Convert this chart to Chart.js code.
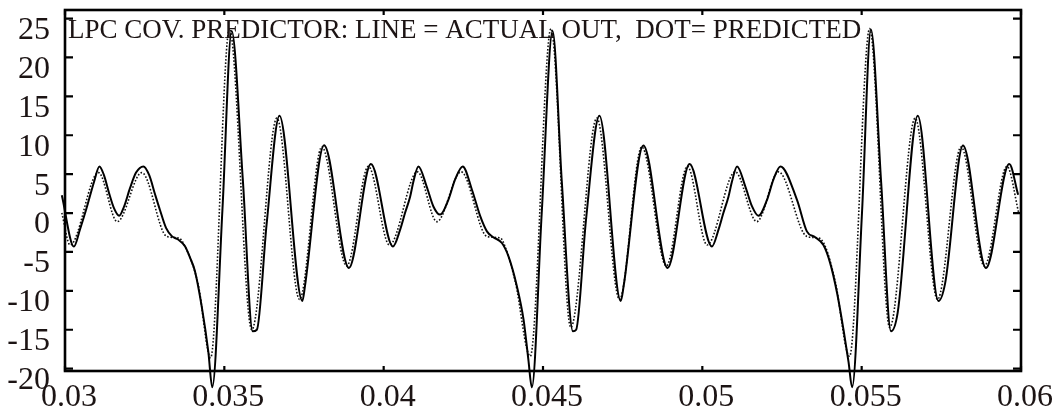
<!DOCTYPE html>
<html>
<head>
<meta charset="utf-8">
<script src="https://cdn.jsdelivr.net/npm/chart.js@4/dist/chart.umd.min.js"></script>
<style>
    html, body { margin: 0; padding: 0; background: #fff; }
    #wrap { width: 1063px; height: 411px; }
</style>
</head>
<body>
<div id="wrap"><canvas id="lpc-chart" width="1063" height="411"></canvas></div>
<script>
// time (s) and amplitude of the actual output
const actualT = [
    0.02990, 0.03028, 0.03047, 0.03063, 0.03075, 0.03091, 0.03108, 0.03122, 0.03138, 0.03154,
    0.03170, 0.03185, 0.03204, 0.03223, 0.03246, 0.03264, 0.03283, 0.03298, 0.03317, 0.03336,
    0.03355, 0.03377, 0.03392, 0.03408, 0.03429, 0.03450, 0.03462, 0.03494, 0.03523, 0.03558,
    0.03589, 0.03602, 0.03633, 0.03673, 0.03745, 0.03753, 0.03813, 0.03891, 0.03960,
    0.04029, 0.04052, 0.04067, 0.04083, 0.04093, 0.04109, 0.04135, 0.04156, 0.04177, 0.04203,
    0.04224, 0.04248, 0.04277, 0.04303, 0.04324, 0.04344, 0.04371, 0.04392, 0.04418, 0.04439,
    0.04454, 0.04465, 0.04496, 0.04530, 0.04559, 0.04594, 0.04604, 0.04635, 0.04677, 0.04744,
    0.04753, 0.04815, 0.04891, 0.04960,
    0.05030, 0.05051, 0.05066, 0.05082, 0.05093, 0.05109, 0.05135, 0.05156, 0.05176, 0.05203,
    0.05223, 0.05245, 0.05297, 0.05328, 0.05354, 0.05380, 0.05401, 0.05423, 0.05443, 0.05459,
    0.05470, 0.05501, 0.05529, 0.05561, 0.05592, 0.05613, 0.05676, 0.05741, 0.05762, 0.05818,
    0.05890, 0.05963, 0.05991
];
const actualV = [
    2.3, -4.3, -2.1, 0.0, 1.7, 4.0, 6.0, 4.9, 2.6, 0.6,
    -0.35, 0.8, 3.2, 5.2, 6.0, 4.9, 2.35, 0.4, -1.9, -3.0,
    -3.4, -4.3, -5.7, -7.5, -12.0, -17.9, -22.4, 0.4, 23.4, 4.3,
    -15.2, -15.0, -1.3, 12.5, -11.3, -9.4, 8.7, -7.05, 6.3,
    -4.3, -2.1, 0.0, 2.1, 4.0, 6.0, 3.4, 0.85, -0.2, 1.7,
    4.3, 6.0, 3.0, -0.4, -2.35, -3.1, -3.85, -5.6, -9.4, -13.7,
    -18.8, -22.4, 0.0, 23.4, 4.05, -15.2, -15.0, -0.85, 12.5, -11.3,
    -9.4, 8.7, -7.05, 6.3,
    -4.3, -2.1, 0.0, 2.1, 4.05, 6.0, 3.4, 0.85, -0.35, 1.7,
    4.3, 6.0, 1.7, -2.35, -3.1, -4.1, -6.4, -10.3, -15.0, -19.2,
    -22.4, 0.0, 23.6, 4.05, -15.2, -12.8, 12.5, -11.3, -9.0, 8.7,
    -7.05, 6.3, 2.35
];

// time (s) and amplitude of the predictor output
const predT = [
    0.02990, 0.03016, 0.03105, 0.03164, 0.03241, 0.03319, 0.03356, 0.03377, 0.03418, 0.03457,
    0.03516, 0.03586, 0.03665, 0.03736, 0.03806, 0.03884, 0.03952,
    0.04018, 0.04106, 0.04167, 0.04243, 0.04324, 0.04366, 0.04381, 0.04413, 0.04460,
    0.04525, 0.04587, 0.04669, 0.04740, 0.04810, 0.04887, 0.04953,
    0.05015, 0.05103, 0.05171, 0.05239, 0.05328, 0.05365, 0.05386, 0.05417, 0.05462,
    0.05525, 0.05588, 0.05668, 0.05738, 0.05812, 0.05885, 0.05956, 0.05993
];
const predV = [
    0.0, -4.1, 5.2, -1.1, 5.2, -3.0, -3.2, -4.3, -9.2, -18.6,
    23.7, -15.0, 12.2, -11.1, 8.5, -6.8, 6.0,
    -4.1, 5.3, -1.1, 5.3, -3.0, -3.2, -4.3, -8.8, -18.4,
    23.7, -14.7, 12.2, -11.1, 8.5, -6.8, 6.0,
    -4.1, 5.3, -1.1, 5.3, -3.0, -3.2, -4.3, -8.8, -18.4,
    23.7, -14.7, 12.2, -11.1, 8.5, -6.8, 6.0, 0.0
];

const xTicks = [0.03, 0.035, 0.04, 0.045, 0.05, 0.055, 0.06];
const yTicks = [-20, -15, -10, -5, 0, 5, 10, 15, 20, 25];
const titleText = 'LPC COV. PREDICTOR: LINE = ACTUAL OUT,  DOT= PREDICTED';

const toPoints = (ts, vs) => ts.map((t, i) => ({ x: t, y: vs[i] }));

const ink = '#1c1414';
const serif = '"Liberation Serif", "Times New Roman", serif';

// box around the plot with inward tick marks on all four sides, plus the caption
const framePlugin = {
    id: 'frame',
    afterDraw(chart) {
        const { ctx, chartArea: a, scales: { x, y } } = chart;
        ctx.save();
        ctx.strokeStyle = '#000';
        ctx.lineWidth = 2.6;
        ctx.strokeRect(a.left, a.top, a.right - a.left, a.bottom - a.top);
        ctx.lineWidth = 2.2;
        ctx.beginPath();
        yTicks.forEach((v) => {
            const py = y.getPixelForValue(v);
            ctx.moveTo(a.left, py); ctx.lineTo(a.left + 8, py);
            ctx.moveTo(a.right, py); ctx.lineTo(a.right - 8, py);
        });
        xTicks.forEach((v) => {
            const px = x.getPixelForValue(v);
            ctx.moveTo(px, a.bottom); ctx.lineTo(px, a.bottom - 5);
            ctx.moveTo(px, a.top); ctx.lineTo(px, a.top + 5);
        });
        ctx.stroke();
        ctx.fillStyle = ink;
        ctx.font = '27px ' + serif;
        ctx.textBaseline = 'alphabetic';
        ctx.textAlign = 'left';
        ctx.fillText(titleText, 68, 38);
        ctx.restore();
    }
};

new Chart(document.getElementById('lpc-chart'), {
    type: 'line',
    data: {
        datasets: [
            {
                label: 'actual',
                data: toPoints(actualT, actualV),
                borderColor: '#000',
                borderWidth: 2,
                pointRadius: 0,
                cubicInterpolationMode: 'monotone',
                clip: false
            },
            {
                label: 'predicted',
                data: toPoints(predT, predV),
                borderColor: '#111',
                borderWidth: 1.6,
                borderDash: [1.6, 1.8],
                pointRadius: 0,
                cubicInterpolationMode: 'monotone',
                clip: false
            }
        ]
    },
    options: {
        responsive: false,
        animation: false,
        events: [],
        layout: { padding: { top: 10, right: 42, left: 0, bottom: 0 } },
        plugins: {
            legend: { display: false },
            tooltip: { enabled: false },
            title: { display: false }
        },
        scales: {
            x: {
                type: 'linear',
                min: 0.03,
                max: 0.06,
                grid: { display: false },
                border: { display: false },
                afterBuildTicks: (axis) => { axis.ticks = xTicks.map(v => ({ value: v })); },
                afterFit: (axis) => { axis.height = 40; axis.paddingLeft = 0; axis.paddingRight = 0; },
                ticks: {
                    autoSkip: false,
                    maxRotation: 0,
                    padding: -1,
                    labelOffset: 4,
                    color: ink,
                    font: { family: serif, size: 32 },
                    callback: v => String(Number(v.toFixed(3)))
                }
            },
            y: {
                type: 'linear',
                min: -20.3,
                max: 26.1,
                grid: { display: false },
                border: { display: false },
                afterBuildTicks: (axis) => { axis.ticks = yTicks.map(v => ({ value: v })); },
                afterFit: (axis) => { axis.width = 65; axis.paddingTop = 0; axis.paddingBottom = 0; },
                ticks: {
                    autoSkip: false,
                    padding: 7,
                    labelOffset: 12,
                    color: ink,
                    font: { family: serif, size: 32 },
                    callback: v => String(v)
                }
            }
        }
    },
    plugins: [framePlugin]
});
</script>
</body>
</html>
